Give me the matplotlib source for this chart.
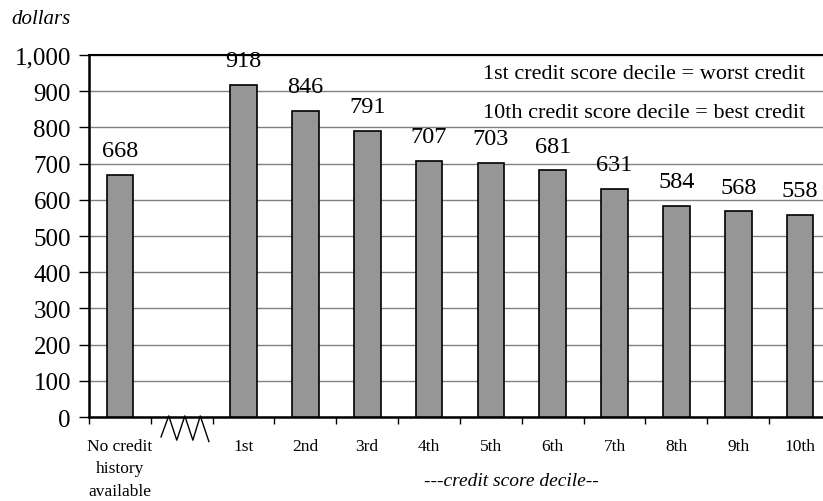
import matplotlib.pyplot as plt
import matplotlib.transforms as mtransforms
import numpy as np

plt.rcParams['font.family'] = ['Liberation Serif', 'DejaVu Serif']

categories = ["No credit\nhistory\navailable", "", "1st", "2nd", "3rd", "4th", "5th",
              "6th", "7th", "8th", "9th", "10th"]
values = [668, None, 918, 846, 791, 707, 703, 681, 631, 584, 568, 558]
y_ticks = [0, 100, 200, 300, 400, 500, 600, 700, 800, 900, 1000]
notes = ["1st credit score decile = worst credit",
         "10th credit score decile = best credit"]

fig = plt.figure(figsize=(8.23, 5.02), dpi=100)
ax = fig.add_axes([0.1081, 0.1673, 0.9016, 0.7211])

x = np.arange(len(categories))
for xi, v in zip(x, values):
    if v is None:
        continue
    ax.bar(xi, v, width=0.43, color='#969696', edgecolor='black', linewidth=1.2, zorder=3)
    ax.annotate(str(v), (xi, v), xytext=(0, 10), textcoords='offset points',
                ha='center', va='bottom', fontsize=17.5)

ax.set_xlim(-0.5, len(categories) - 0.5)
ax.set_ylim(0, 1000)
ax.set_yticks(y_ticks)
ax.set_yticklabels([f"{t:,}" for t in y_ticks], fontsize=18)
ax.yaxis.grid(True, color='#808080', linewidth=1.0, zorder=0)
ax.set_axisbelow(True)

ax.set_xticks(x)
ax.set_xticklabels(categories, fontsize=12.5, linespacing=1.55, va='top')
ax.set_xticks(np.arange(-0.5, len(categories)), minor=True)
ax.tick_params(axis='x', which='major', length=0, pad=15)
ax.tick_params(axis='x', which='minor', length=5, width=1, direction='out')
ax.tick_params(axis='y', length=7, width=1, pad=6)

ax.spines['right'].set_visible(False)
ax.spines['top'].set_linewidth(1.5)
ax.spines['left'].set_linewidth(1.8)
ax.spines['bottom'].set_linewidth(1.8)

# axis break zigzag between "No credit" and "1st"
trans = mtransforms.blended_transform_factory(ax.transData, ax.transAxes)
zx = [0.665, 0.79, 0.92, 1.05, 1.18, 1.30, 1.44]
zy = [-0.055, 0.003, -0.064, 0.003, -0.064, 0.003, -0.068]
ax.plot(zx, zy, color='black', linewidth=1.0, transform=trans, clip_on=False)

for i, note in enumerate(notes):
    fig.text(0.978, 0.851 - i * 0.078, note, ha='right', va='center', fontsize=16)

fig.text(0.014, 0.962, "dollars", style='italic', fontsize=15, va='center')
fig.text(0.621, 0.04, "---credit score decile--", style='italic', fontsize=14,
         ha='center', va='center')

fig.savefig("out.png", dpi=100)
